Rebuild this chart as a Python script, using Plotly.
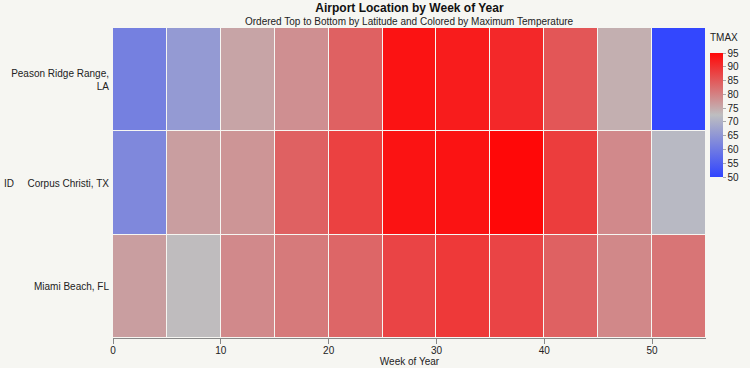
import plotly.graph_objects as go

airports = ["Peason Ridge Range,<br>LA", "Corpus Christi, TX", "Miami Beach, FL"]
week_bins = [2.5, 7.5, 12.5, 17.5, 22.5, 27.5, 32.5, 37.5, 42.5, 47.5, 52.5]
tmax_peason = [61, 65.8, 75.7, 78.3, 84, 93.7, 92.5, 91, 85.4, 74.4, 50.5]
tmax_corpus = [62.5, 76.4, 77.6, 84, 88, 93.7, 93.7, 95, 88.5, 79, 71.5]
tmax_miami = [76.4, 72.8, 79, 80.9, 83.4, 87.6, 89, 87.6, 84, 79.2, 81.5]
x_ticks = [0, 10, 20, 30, 40, 50]
cbar_ticks = [50, 55, 60, 65, 70, 75, 80, 85, 90, 95]

W, H = 750, 368
L, R, T, B = 113, 44, 28, 30
pw = W - L - R
ph = H - T - B

bg = "#f6f6f2"
font = "Liberation Sans, Arial, sans-serif"

fig = go.Figure(go.Heatmap(
    x=week_bins,
    y=airports[::-1],
    z=[tmax_miami, tmax_corpus, tmax_peason],
    zmin=50, zmax=95,
    colorscale=[[0, "rgb(48,68,255)"], [0.5, "rgb(190,190,192)"], [1, "rgb(255,8,8)"]],
    xgap=1, ygap=1,
    colorbar=dict(
        x=(710 - L) / pw, xanchor="left", xpad=0,
        y=(H - B - 53) / ph, yanchor="top", ypad=0,
        len=(177 - 53) / ph, lenmode="fraction", thickness=13,
        tickvals=cbar_ticks, ticks="outside", ticklen=3, tickcolor="#aaa",
        tickfont=dict(size=10, color="#222"), outlinewidth=0,
    ),
))

fig.update_layout(
    width=W, height=H,
    margin=dict(l=L, r=R, t=T, b=B, autoexpand=False),
    paper_bgcolor=bg, plot_bgcolor=bg,
    font=dict(family=font, size=10, color="#222"),
    title=dict(text="<b>Airport Location by Week of Year</b>", x=(L + pw / 2) / W, xanchor="center",
               y=1 - 8 / H, yanchor="middle", font=dict(size=12, color="#111")),
    annotations=[
        dict(text="Ordered Top to Bottom by Latitude and Colored by Maximum Temperature",
             xref="paper", yref="paper", x=0.5, y=1 + 7 / ph, xanchor="center", yanchor="middle",
             showarrow=False, font=dict(size=10, color="#222")),
        dict(text="ID", xref="paper", yref="paper", x=(2 - L) / pw, y=0.5, xanchor="left",
             yanchor="middle", showarrow=False, font=dict(size=10, color="#222")),
        dict(text="TMAX", xref="paper", yref="paper", x=(708 - L) / pw, y=(H - B - 38) / ph,
             xanchor="left", yanchor="middle", showarrow=False, font=dict(size=10, color="#222")),
    ],
    xaxis=dict(range=[0, 55], tickvals=x_ticks, ticks="outside", ticklen=5, tickcolor="#888",
               showline=True, linecolor="#888", showgrid=False, zeroline=False, automargin=False,
               ticklabelstandoff=-2,
               title=dict(text="Week of Year", font=dict(size=10), standoff=0),
               tickfont=dict(size=10)),
    yaxis=dict(showgrid=False, zeroline=False, ticks="", ticklabelstandoff=3, automargin=False,
               tickfont=dict(size=10)),
)

fig.write_html("out.html", config={"displayModeBar": False},
               post_script="document.body.style.margin='0';")
